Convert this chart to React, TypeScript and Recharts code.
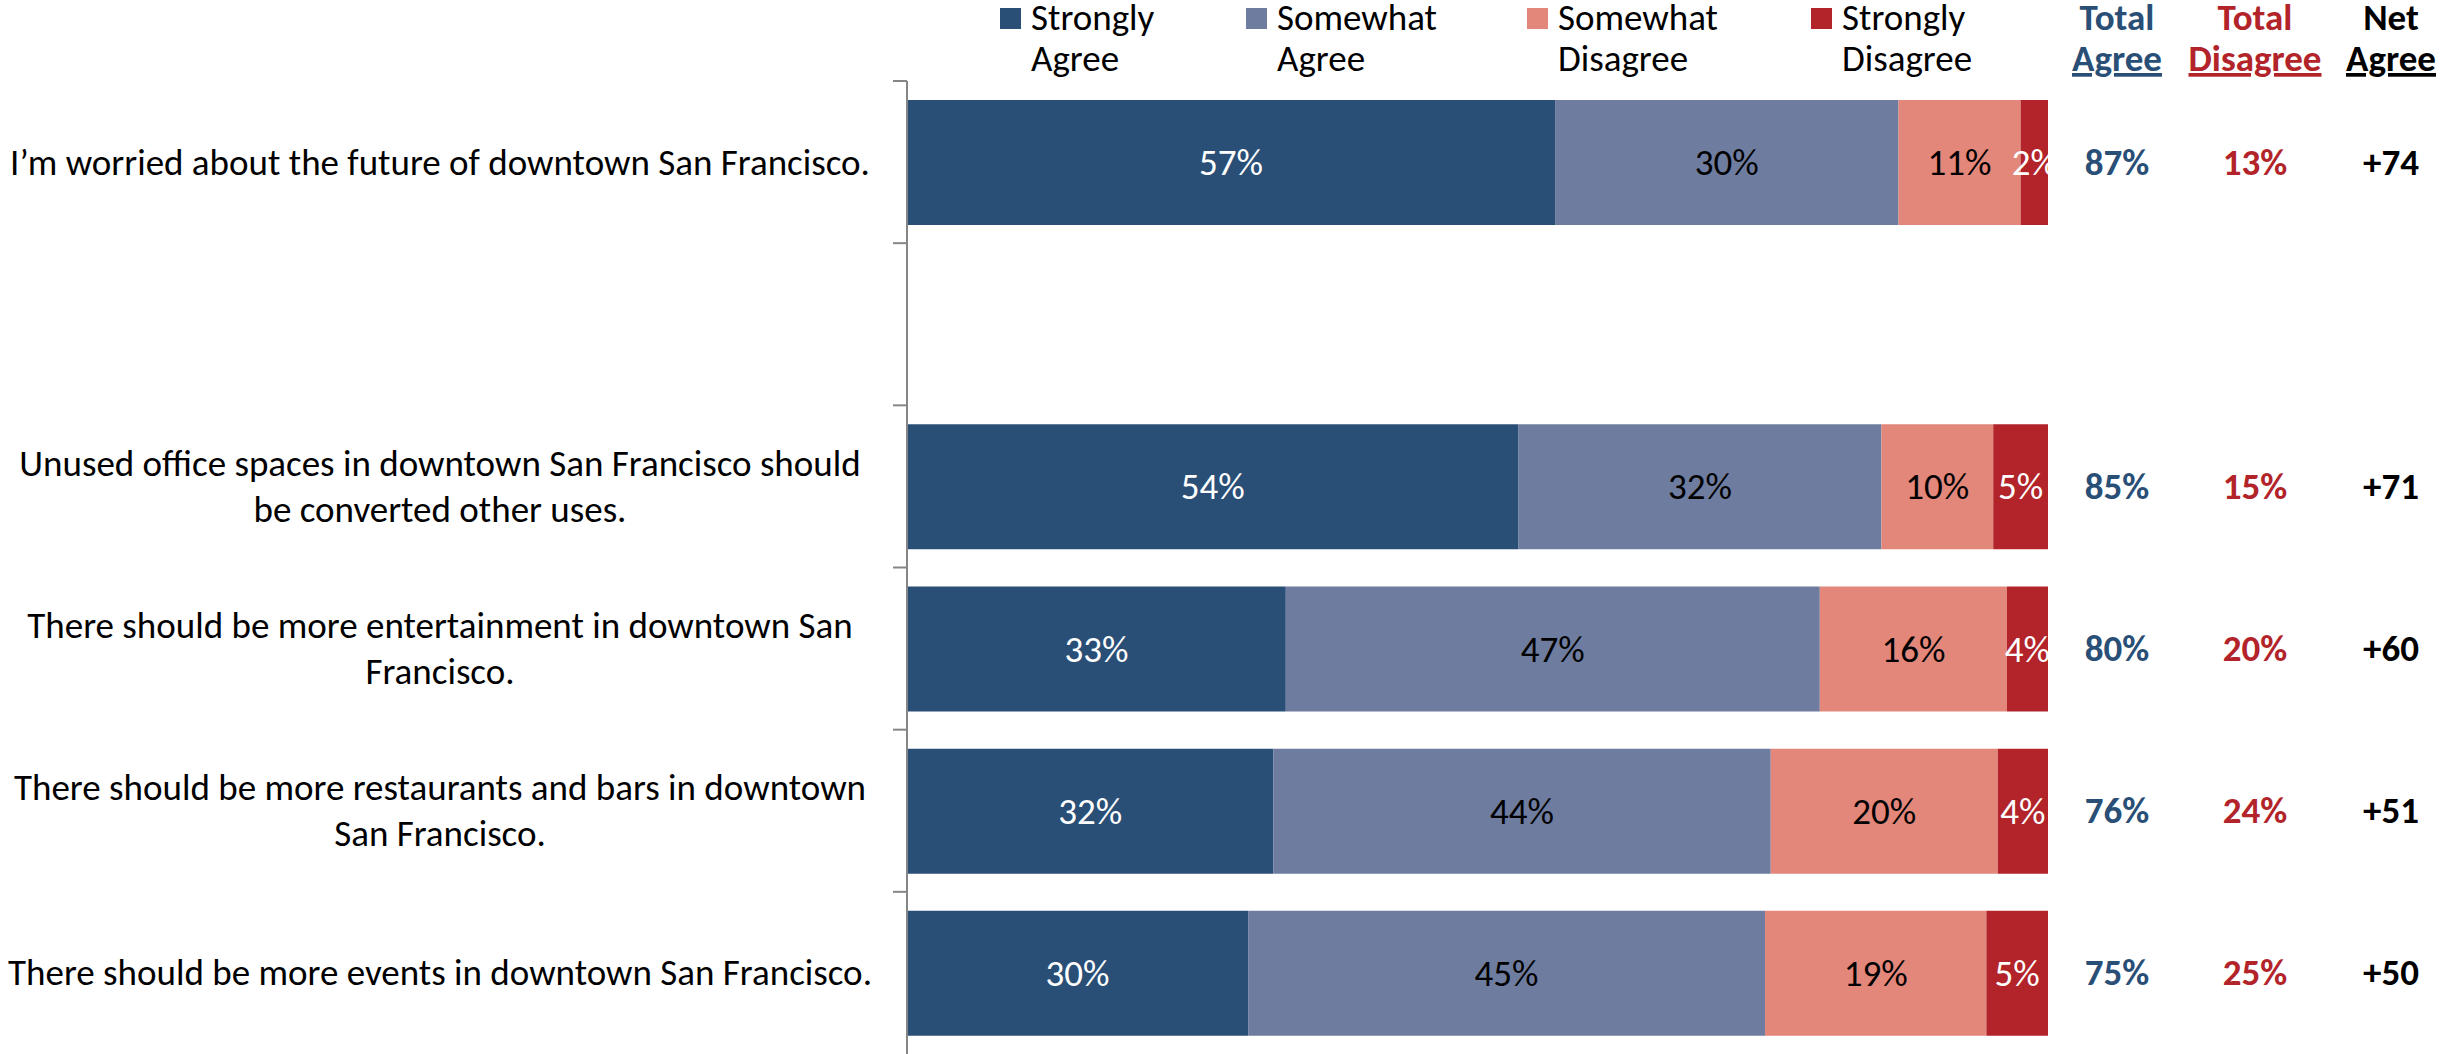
import React from "react";
import { BarChart, Bar, XAxis, YAxis, LabelList, Legend } from "recharts";

const categories = [
  "I’m worried about the future of downtown San Francisco.",
  "",
  "Unused office spaces in downtown San Francisco should\nbe converted other uses.",
  "There should be more entertainment in downtown San\nFrancisco.",
  "There should be more restaurants and bars in downtown\nSan Francisco.",
  "There should be more events in downtown San Francisco.",
];
const stronglyAgree = [56.8, null, 53.6, 33.2, 32.1, 29.9];
const somewhatAgree = [30.1, null, 31.8, 46.8, 43.6, 45.3];
const somewhatDisagree = [10.7, null, 9.8, 16.4, 19.9, 19.4];
const stronglyDisagree = [2.4, null, 4.8, 3.6, 4.4, 5.4];
const totalAgree = [87, null, 85, 80, 76, 75];
const totalDisagree = [13, null, 15, 20, 24, 25];
const netAgree = [74, null, 71, 60, 51, 50];

const seriesNames = ["Strongly Agree", "Somewhat Agree", "Somewhat Disagree", "Strongly Disagree"];
const headerTop = ["Total", "Total", "Net"];
const headerBottom = ["Agree", "Disagree", "Agree"];

const colors = ["#2A4F77", "#6E7C9F", "#E2877A", "#B2242A"];
const labelColors = ["#ffffff", "#000000", "#000000", "#ffffff"];
const headerColors = ["#2A4F77", "#B2242A", "#000000"];

const FONT = "Carlito, Lato, 'Open Sans', sans-serif";
const FS = 37;
const W = 2442;
const H = 1054;
const COL_X = [2117, 2255, 2391];
const LEGEND_X = [1000, 1246, 1527, 1811];

const data = categories.map((name, i) => ({
  name,
  sa: stronglyAgree[i],
  swa: somewhatAgree[i],
  swd: somewhatDisagree[i],
  sd: stronglyDisagree[i],
  ta: totalAgree[i],
  td: totalDisagree[i],
  net: netAgree[i],
}));
const keys = ["sa", "swa", "swd", "sd"];

function LeftTick(props: any) {
  const { y, payload } = props;
  const half = payload.offset || (H - 81) / 12;
  const lines = String(payload.value).split("\n");
  const lh = 46;
  const y0 = y - ((lines.length - 1) * lh) / 2;
  return (
    <g>
      <line x1={893} x2={907} y1={y - half} y2={y - half} stroke="#868686" strokeWidth={2} />
      {lines.map((l, i) => (
        <text key={i} x={440} y={y0 + i * lh} textAnchor="middle" dominantBaseline="central"
          fontFamily={FONT} fontSize={FS} fill="#000">{l}</text>
      ))}
    </g>
  );
}

function RightTick(props: any) {
  const { y, index } = props;
  const row = data[index];
  if (!row || row.ta == null) return null;
  const vals = [`${row.ta}%`, `${row.td}%`, `+${row.net}`];
  return (
    <g>
      {vals.map((v, i) => (
        <text key={i} x={COL_X[i]} y={y} textAnchor="middle" dominantBaseline="central"
          fontFamily={FONT} fontSize={FS} fontWeight="bold" fill={headerColors[i]}>{v}</text>
      ))}
    </g>
  );
}

function makeLabel(color: string) {
  return (props: any) => {
    const { x, y, width, height, value } = props;
    if (value == null) return null;
    return (
      <text x={x + width / 2} y={y + height / 2} textAnchor="middle" dominantBaseline="central"
        fontFamily={FONT} fontSize={FS} fill={color}>{`${Math.round(value)}%`}</text>
    );
  };
}

function LegendContent() {
  return (
    <svg width={W} height={92} style={{ position: "absolute", left: 0, top: 0, overflow: "visible" }}>
      {seriesNames.map((name, i) => {
        const [a, b] = name.split(" ");
        const x = LEGEND_X[i];
        return (
          <g key={i}>
            <rect x={x} y={8} width={21} height={21} fill={colors[i]} />
            <text x={x + 31} y={30} fontFamily={FONT} fontSize={FS} fill="#000">{a}</text>
            <text x={x + 31} y={71} fontFamily={FONT} fontSize={FS} fill="#000">{b}</text>
          </g>
        );
      })}
      {headerTop.map((t, i) => (
        <g key={"h" + i}>
          <text x={COL_X[i]} y={30} textAnchor="middle" fontFamily={FONT} fontSize={FS} fontWeight="bold"
            fill={headerColors[i]}>{t}</text>
          <text x={COL_X[i]} y={71} textAnchor="middle" fontFamily={FONT} fontSize={FS} fontWeight="bold"
            fill={headerColors[i]} style={{ textDecoration: "underline" }}>{headerBottom[i]}</text>
        </g>
      ))}
    </svg>
  );
}

export default function App() {
  return (
    <div style={{ position: "absolute", left: 0, top: 0, width: W, height: H, background: "#fff" }}>
      <BarChart width={W} height={H} data={data} layout="vertical" barSize={125}
        margin={{ top: 81, right: 0, bottom: 0, left: 0 }}>
        <XAxis type="number" domain={[0, 100]} hide />
        <YAxis yAxisId="left" type="category" dataKey="name" width={907} interval={0}
          axisLine={{ stroke: "#868686", strokeWidth: 2 }} tickLine={false} tick={<LeftTick />} />
        <YAxis yAxisId="right" orientation="right" type="category" dataKey="name" width={394} interval={0}
          axisLine={false} tickLine={false} tick={<RightTick />} />
        <Legend verticalAlign="top" content={<LegendContent />}
          wrapperStyle={{ left: 0, top: 0, width: W, height: 0 }} />
        {keys.map((k, i) => (
          <Bar key={k} yAxisId="left" dataKey={k} name={seriesNames[i]} stackId="a" fill={colors[i]}
            isAnimationActive={false}>
            <LabelList dataKey={k} content={makeLabel(labelColors[i])} />
          </Bar>
        ))}
      </BarChart>
    </div>
  );
}
